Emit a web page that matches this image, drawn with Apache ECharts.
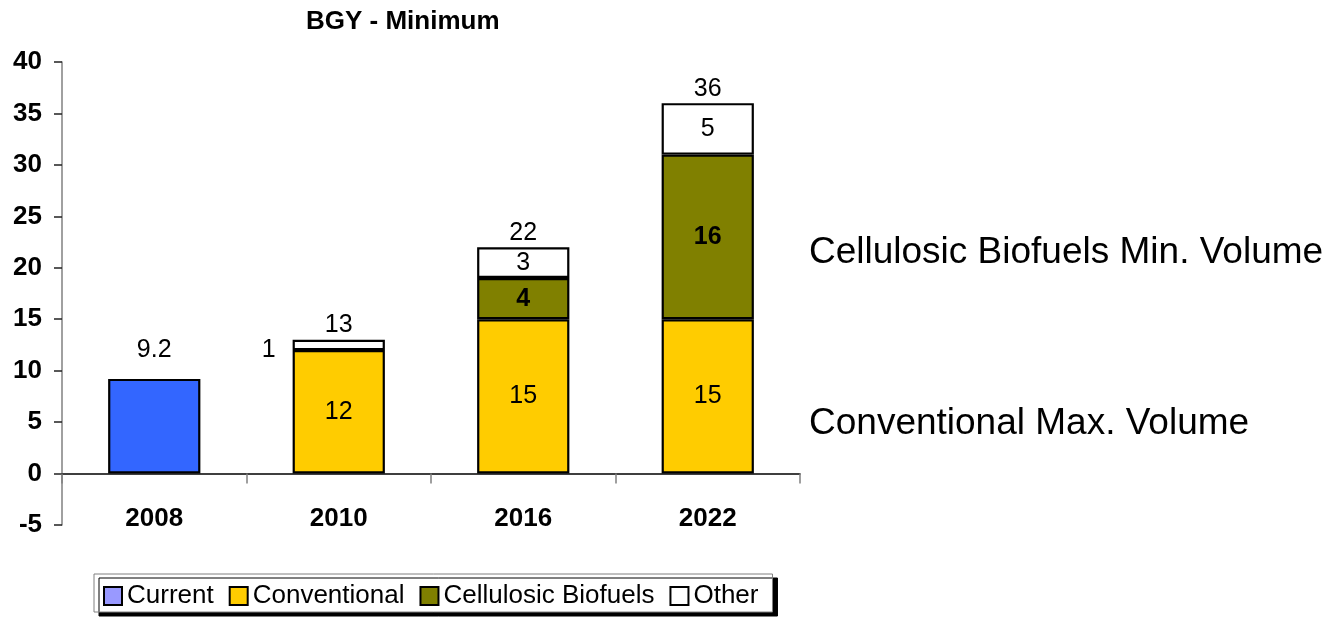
<!DOCTYPE html>
<html>
<head>
<meta charset="utf-8">
<title>BGY - Minimum</title>
<script src="https://cdn.jsdelivr.net/npm/echarts@6/dist/echarts.min.js"></script>
<style>
  html, body { margin: 0; padding: 0; background: #fff; }
  #chart { width: 1330px; height: 619px; }
</style>
</head>
<body>
<div id="chart"></div>
<script>
// Renewable fuel volumes by year, billion gallons per year
const years = ['2008', '2010', '2016', '2022'];
const currentVals = [9.2, null, null, null];
const conventionalVals = [null, 12, 15, 15];
const cellulosicVals = [null, null, 4, 16];
const otherVals = [null, 1, 3, 5];
const totalVals = [null, 13, 22, 36];
const yTicks = { min: -5, max: 40, step: 5 };

const FONT = '"Liberation Sans", Arial, Helvetica, sans-serif';
const labelBase = { show: true, color: '#000', fontFamily: FONT, fontSize: 25 };
const barBorder = { borderColor: '#000', borderWidth: 2.2 };

const chart = echarts.init(document.getElementById('chart'), null, { renderer: 'canvas' });

// The 2010 "Other" slice is too thin for an inside label, so it sits beside the bar
const otherData = otherVals.map((v, i) =>
  i === 1 ? { value: v, label: { position: 'left', distance: 17, offset: [0, 5] } } : v
);

chart.setOption({
  animation: false,
  textStyle: { fontFamily: FONT },
  title: {
    text: 'BGY - Minimum',
    left: 306, top: 9, padding: 0,
    textStyle: { fontFamily: FONT, fontSize: 26, fontWeight: 'bold', color: '#000' }
  },
  grid: { left: 62, right: 530, top: 62, bottom: 94, containLabel: false },
  legend: {
    left: 94, top: 574,
    padding: [9, 14, 3, 9],
    itemGap: 15, itemWidth: 18, itemHeight: 18,
    icon: 'rect',
    backgroundColor: '#fff',
    borderColor: '#808080', borderWidth: 1,
    shadowColor: '#000', shadowBlur: 0, shadowOffsetX: 5, shadowOffsetY: 4,
    itemStyle: { borderColor: '#000', borderWidth: 2 },
    textStyle: { fontFamily: FONT, fontSize: 26, color: '#000' },
    data: [
      { name: 'Current', itemStyle: { color: '#9999ff' } },
      { name: 'Conventional' },
      { name: 'Cellulosic Biofuels' },
      { name: 'Other' }
    ]
  },
  xAxis: [
    {
      // Zero baseline with category boundary ticks
      type: 'category',
      data: years,
      axisLine: { onZero: true, lineStyle: { color: '#000', width: 1.5 } },
      axisTick: { show: true, length: 10, lineStyle: { color: '#808080', width: 1.5 } },
      axisLabel: { show: false },
      splitLine: { show: false }
    },
    {
      // Year labels, hung just under the zero baseline
      type: 'category',
      data: years,
      position: 'bottom',
      offset: -52,
      axisLine: { show: false, onZero: false },
      axisTick: { show: false },
      axisLabel: { margin: 33, fontFamily: FONT, fontSize: 26, fontWeight: 'bold', color: '#000' },
      splitLine: { show: false }
    }
  ],
  yAxis: {
    type: 'value',
    min: yTicks.min, max: yTicks.max, interval: yTicks.step,
    axisLine: { show: true, lineStyle: { color: '#808080', width: 1.5 } },
    axisTick: { show: true, length: 8, lineStyle: { color: '#222', width: 1.5 } },
    axisLabel: { margin: 20, fontFamily: FONT, fontSize: 26, fontWeight: 'bold', color: '#000' },
    splitLine: { show: false }
  },
  graphic: [
    {
      type: 'text', left: 809, top: 234,
      style: { text: 'Cellulosic Biofuels Min. Volume', font: '37px ' + FONT, fill: '#000' }
    },
    {
      type: 'text', left: 809, top: 405,
      style: { text: 'Conventional Max. Volume', font: '37px ' + FONT, fill: '#000' }
    }
  ],
  series: [
    {
      name: 'Current', type: 'bar', stack: 'fuel', barWidth: '50%',
      data: currentVals,
      itemStyle: Object.assign({ color: '#3366ff' }, barBorder),
      label: Object.assign({}, labelBase, { position: 'top', distance: 16 })
    },
    {
      name: 'Conventional', type: 'bar', stack: 'fuel', barWidth: '50%',
      data: conventionalVals,
      itemStyle: Object.assign({ color: '#ffcc00' }, barBorder),
      label: Object.assign({}, labelBase, { position: 'inside' })
    },
    {
      name: 'Cellulosic Biofuels', type: 'bar', stack: 'fuel', barWidth: '50%',
      data: cellulosicVals,
      itemStyle: Object.assign({ color: '#808000' }, barBorder),
      label: Object.assign({}, labelBase, { position: 'inside', fontWeight: 'bold' })
    },
    {
      name: 'Other', type: 'bar', stack: 'fuel', barWidth: '50%',
      data: otherData,
      itemStyle: Object.assign({ color: '#ffffff' }, barBorder),
      label: Object.assign({}, labelBase, { position: 'inside' })
    },
    {
      // Stack totals printed just above each bar
      name: 'Total', type: 'scatter', symbolSize: 0, z: 5,
      data: totalVals,
      silent: true,
      itemStyle: { opacity: 1 },
      label: Object.assign({}, labelBase, { position: 'top', distance: 2 })
    }
  ]
});
</script>
</body>
</html>
